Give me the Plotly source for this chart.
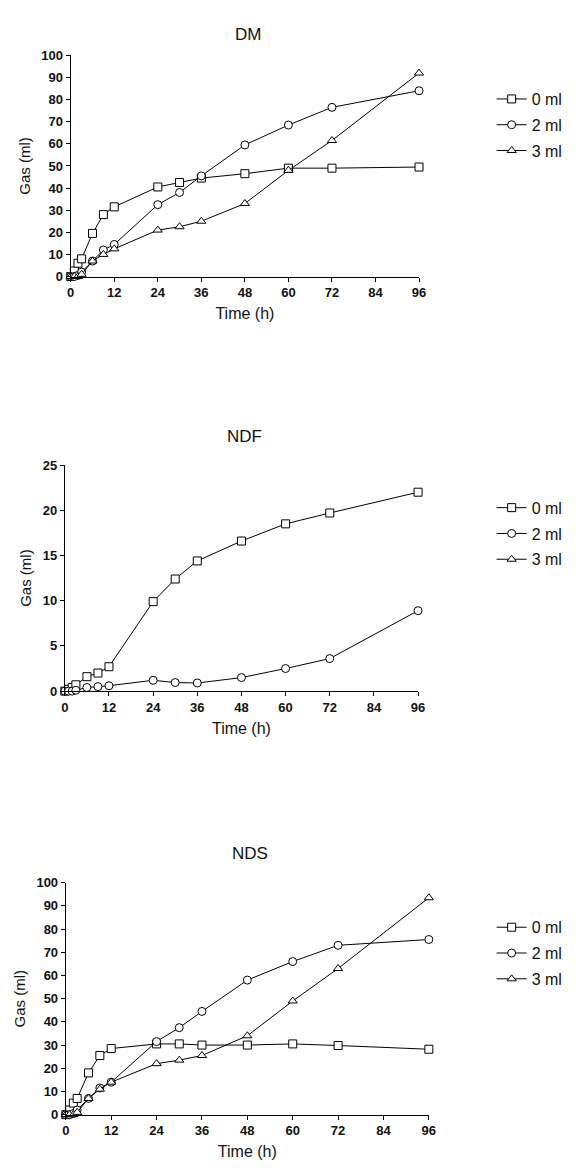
import plotly.graph_objects as go

W, H = 585, 1174

times = [0, 1, 2, 3, 6, 9, 12, 24, 30, 36, 48, 60, 72, 96]

dm_0ml = [0, 2.5, 6, 8, 19.5, 28, 31.5, 40.5, 42.5, 44.5, 46.5, 49, 49, 49.5]
dm_2ml = [0, 0, 0.5, 2, 7, 12, 14.5, 32.5, 38, 45.5, 59.5, 68.5, 76.5, 84]
dm_3ml = [0, 0, 0, 1, 7, 10, 12.5, 21, 22.5, 25, 33, 48, 61.5, 92]

ndf_0ml = [0, 0.2, 0.4, 0.7, 1.6, 2.0, 2.7, 9.9, 12.4, 14.4, 16.6, 18.5, 19.7, 22.0]
ndf_2ml = [0, 0, 0, 0.1, 0.4, 0.5, 0.6, 1.2, 0.95, 0.9, 1.5, 2.5, 3.6, 8.9]
ndf_3ml = [None] * len(times)

nds_0ml = [0, 2, 5, 7, 18, 25.5, 28.5, 30.5, 30.5, 30, 30, 30.5, 29.8, 28.2]
nds_2ml = [0, 0, 0.5, 2, 7, 11.5, 14, 31.5, 37.5, 44.5, 58, 66, 73, 75.5]
nds_3ml = [0, 0, 0, 1, 7, 11, 14, 22, 23.5, 25.5, 34, 49, 63, 93.5]

series_names = ["0 ml", "2 ml", "3 ml"]
symbols = ["square", "circle", "triangle-up"]

panels = [
    dict(title="DM", data=[dm_0ml, dm_2ml, dm_3ml], yrange=[0, 100], ydtick=10,
         xpx=(68, 423), ypx=(49, 273), title_y=28, legend_y=76),
    dict(title="NDF", data=[ndf_0ml, ndf_2ml, ndf_3ml], yrange=[0, 25], ydtick=5,
         xpx=(62, 422), ypx=(464, 693), title_y=435, legend_y=490),
    dict(title="NDS", data=[nds_0ml, nds_2ml, nds_3ml], yrange=[0, 100], ydtick=10,
         xpx=(63, 433), ypx=(887, 1122), title_y=857, legend_y=915),
]

FONT = "Liberation Sans"
fig = go.Figure()

for i, p in enumerate(panels):
    n = "" if i == 0 else str(i + 1)
    leg = "legend" if i == 0 else f"legend{i+1}"
    for j, (vals, name, sym) in enumerate(zip(p["data"], series_names, symbols)):
        fig.add_trace(go.Scatter(
            x=times, y=vals, name=name, mode="lines+markers",
            xaxis="x" + n, yaxis="y" + n, legend=leg, legendgroup=f"g{i}{j}",
            line=dict(color="black", width=1),
            marker=dict(symbol=sym, size=8, color="white",
                        line=dict(color="black", width=1)),
            cliponaxis=False, connectgaps=False,
        ))
    x0, x1 = p["xpx"]
    y0, y1 = p["ypx"]
    xa = dict(domain=[x0 / W, x1 / W], range=[0, 96], tickmode="array",
              tickvals=list(range(0, 97, 12)), ticks="outside", ticklen=4,
              tickwidth=1, tickcolor="black", showline=True, linecolor="black",
              linewidth=1.2, showgrid=False, zeroline=False,
              tickfont=dict(family=FONT, size=13, color="#111", weight="bold"),
              title=dict(text="Time (h)", standoff=8,
                         font=dict(family=FONT, size=16, color="#111")),
              anchor="y" + n, fixedrange=True)
    ya = dict(domain=[1 - y1 / H, 1 - y0 / H], range=p["yrange"], dtick=p["ydtick"],
              ticks="outside", ticklen=4, tickwidth=1, tickcolor="black",
              showline=True, linecolor="black", linewidth=1.2, showgrid=False,
              zeroline=False,
              tickfont=dict(family=FONT, size=13, color="#111", weight="bold"),
              title=dict(text="Gas (ml)", standoff=7,
                         font=dict(family=FONT, size=15, color="#111")),
              anchor="x" + n, fixedrange=True)
    fig.layout["xaxis" + n] = xa
    fig.layout["yaxis" + n] = ya
    fig.layout[leg] = dict(x=497 / W, y=1 - p["legend_y"] / H, xanchor="left",
                           yanchor="top", bgcolor="rgba(0,0,0,0)",
                           font=dict(family=FONT, size=16, color="#111"),
                           tracegroupgap=2, itemsizing="trace", itemwidth=30)
    fig.add_annotation(text=p["title"], x=(x0 + x1) / 2 / W + 0.005,
                       y=1 - p["title_y"] / H, xref="paper", yref="paper",
                       showarrow=False, xanchor="center", yanchor="middle",
                       font=dict(family=FONT, size=17, color="#111"))

fig.update_layout(width=W, height=H, margin=dict(l=0, r=0, t=0, b=0),
                  paper_bgcolor="white", plot_bgcolor="white", showlegend=True)

fig.write_html("out.html")
